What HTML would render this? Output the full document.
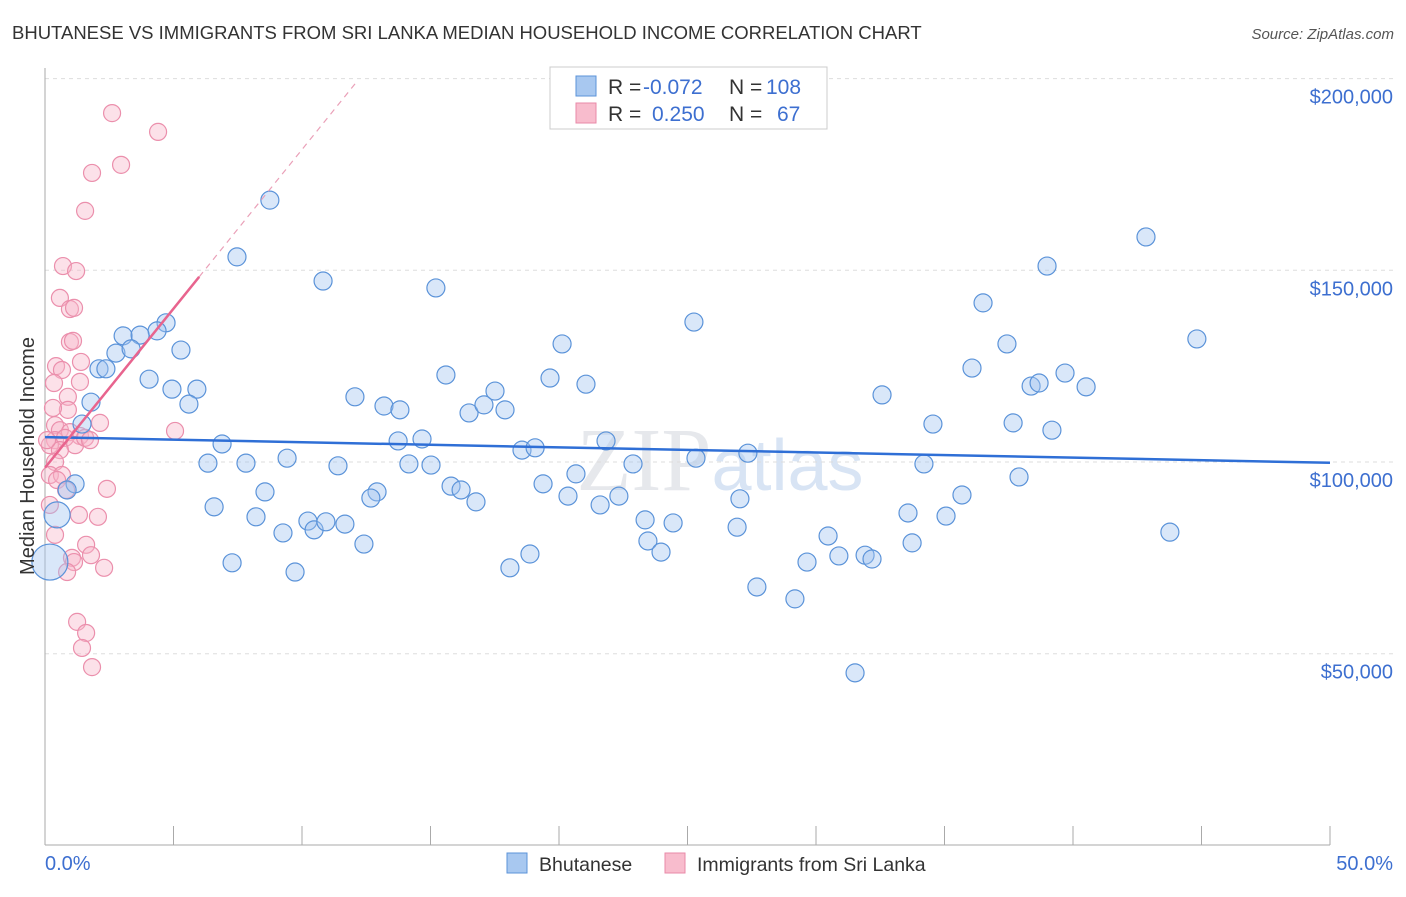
<!DOCTYPE html>
<html><head><meta charset="utf-8"><style>
body{margin:0;background:#fff;font-family:"Liberation Sans",sans-serif;}
</style></head><body>
<svg id="chart" width="1406" height="892" xmlns="http://www.w3.org/2000/svg" style="font-family:'Liberation Sans',sans-serif">
<text x="12" y="39" font-size="18.5" fill="#333">BHUTANESE VS IMMIGRANTS FROM SRI LANKA MEDIAN HOUSEHOLD INCOME CORRELATION CHART</text>
<text x="1394" y="39" font-size="15" fill="#555" text-anchor="end" font-style="italic">Source: ZipAtlas.com</text>
<text x="720" y="490" font-size="90" fill="#e6e8ec" text-anchor="middle" font-family="Liberation Serif">ZIP<tspan fill="#d8e4f4" font-family="Liberation Sans" font-size="72">atlas</tspan></text>
<g id="grid"></g><g id="axes"></g><g id="marks"></g>
<text transform="translate(34,456) rotate(-90)" font-size="20" fill="#333" text-anchor="middle">Median Household Income</text>
<g font-size="21">
<rect x="550" y="67" width="277" height="62" fill="#fff" stroke="#ccc"/>
<rect x="576" y="76" width="20" height="20" fill="#a8c8f0" stroke="#5b93d9"/>
<rect x="576" y="103" width="20" height="20" fill="#f8bccd" stroke="#e98aa8"/>
<text x="608" y="94" fill="#333">R =</text><text x="643" y="94" fill="#3d6fd0">-0.072</text>
<text x="729" y="94" fill="#333">N =</text><text x="766" y="94" fill="#3d6fd0">108</text>
<text x="608" y="121" fill="#333">R =</text><text x="652" y="121" fill="#3d6fd0">0.250</text>
<text x="729" y="121" fill="#333">N =</text><text x="777" y="121" fill="#3d6fd0">67</text>
</g>
<g>
<rect x="507" y="853" width="20" height="20" fill="#a8c8f0" stroke="#5b93d9"/>
<text x="539" y="871" font-size="19.5" fill="#333">Bhutanese</text>
<rect x="665" y="853" width="20" height="20" fill="#f8bccd" stroke="#e98aa8"/>
<text x="697" y="871" font-size="19.5" fill="#333">Immigrants from Sri Lanka</text>
</g>
</svg>
<script>
const yTicks=[50000,100000,150000,200000];
const yTickLabels=["$50,000","$100,000","$150,000","$200,000"];
const xTicks=[0,5,10,15,20,25,30,35,40,45,50];
const blueX=[8.75,7.47,10.82,15.21,42.84,38.99,36.5,44.82,25.25,20.12,4.71,4.36,3.04,3.7,2.76,3.35,5.29,2.1,2.37,4.05,4.94,5.91,5.6,1.79,1.44,12.06,13.19,13.81,15.6,16.5,17.08,17.51,17.9,19.65,21.05,6.89,6.34,7.82,9.42,11.4,13.74,14.67,14.16,15.02,18.56,19.07,21.83,22.88,25.33,27.35,20.66,19.38,20.35,21.6,22.33,27.04,15.8,16.19,16.77,12.92,12.68,8.56,6.58,8.21,9.26,10.23,10.47,10.93,11.67,12.41,7.28,9.73,18.09,18.87,23.35,24.44,23.46,23.97,26.93,27.7,29.18,29.65,30.47,30.89,31.91,32.18,31.52,33.58,33.74,35.06,35.68,34.2,34.55,32.57,36.07,37.43,37.67,38.37,38.68,39.69,40.51,39.18,37.9,43.77,1.17,0.86,0.47,0.19];
const blueY=[168.3,153.5,147.2,145.4,158.7,151.1,141.5,132.1,136.5,130.8,136.3,134.2,132.9,133.1,128.4,129.5,129.2,124.3,124.3,121.6,119,119,115.1,115.6,109.9,117,114.6,113.6,122.7,112.8,114.9,118.5,113.6,121.9,120.3,104.7,99.7,99.7,101,99,105.5,106,99.5,99.2,103.1,103.7,105.5,99.5,101,102.3,96.9,94.3,91.1,88.8,91.1,90.4,93.7,92.7,89.6,92.2,90.6,92.2,88.3,85.7,81.5,84.6,82.3,84.4,83.8,78.6,73.7,71.3,72.4,76,84.9,84.1,79.4,76.5,83,67.4,64.3,73.9,80.7,75.5,75.7,74.7,45,86.7,78.9,85.9,91.4,99.5,109.9,117.5,124.5,130.8,110.2,119.8,120.6,123.2,119.6,108.3,96.1,81.7,94.3,92.7,86.2,73.9];
const blueBig=[0,0,0,0,0,0,0,0,0,0,0,0,0,0,0,0,0,0,0,0,0,0,0,0,0,0,0,0,0,0,0,0,0,0,0,0,0,0,0,0,0,0,0,0,0,0,0,0,0,0,0,0,0,0,0,0,0,0,0,0,0,0,0,0,0,0,0,0,0,0,0,0,0,0,0,0,0,0,0,0,0,0,0,0,0,0,0,0,0,0,0,0,0,0,0,0,0,0,0,0,0,0,0,0,0,0,1,2];
const pinkX=[2.61,4.4,2.96,1.83,1.56,0.7,1.21,0.58,0.97,1.13,0.97,1.09,0.43,0.66,1.4,0.35,1.36,0.89,0.89,0.31,2.14,5.06,0.39,0.58,0.97,1.36,0.39,0.78,1.17,1.56,0.19,0.58,0.39,0.19,0.66,0.47,0.82,2.41,0.19,1.32,2.06,0.39,1.6,1.79,1.05,1.13,2.3,0.86,1.25,1.6,1.44,1.83,0.08,1.75];
const pinkY=[191,186.1,177.5,175.4,165.5,151.1,149.8,142.8,139.9,140.2,131.3,131.6,125,124,126.1,120.6,120.9,117,113.6,114.1,110.2,108.1,109.6,108.3,107.8,106.8,105.7,106.3,104.4,106.3,104.4,103.1,100,96.6,96.6,95.3,92.7,93,88.8,86.2,85.7,81,78.4,75.7,75,73.9,72.4,71.3,58.3,55.4,51.5,46.5,105.7,105.7];
const blueTrend=[106.5,99.8];
const pinkTrend=[98.5,148.3];
const pinkTrendEnd=6;
const NS="http://www.w3.org/2000/svg";
const X=p=>45+p*25.7;
const Y=v=>462-(v-100000)*191.7/50000;
const Yk=k=>Y(k*1000);
function mk(tag,attrs,parent){const e=document.createElementNS(NS,tag);for(const k in attrs)e.setAttribute(k,attrs[k]);parent.appendChild(e);return e;}
const grid=document.getElementById('grid'),axes=document.getElementById('axes'),marks=document.getElementById('marks');
yTicks.forEach((t,i)=>{
 const l=mk('line',{x1:45,x2:1393,y1:Y(t),y2:Y(t),stroke:'#ddd','stroke-dasharray':'4,4'},grid);
 
 
 const tx=mk('text',{x:1393,y:Y(t)+25,'font-size':20,fill:'#3d6fd0','text-anchor':'end'},axes);
 tx.textContent=yTickLabels[i];
 
 
});
const ya=mk('line',{x1:45,x2:45,y1:68,y2:845,stroke:'#aaa'},axes);


const xa=mk('line',{x1:45,x2:1330,y1:845,y2:845,stroke:'#aaa'},axes);


xTicks.forEach(t=>{
 const l=mk('line',{x1:X(t),x2:X(t),y1:826,y2:845,stroke:'#aaa'},axes);
 
 
});
const x0=mk('text',{x:45,y:870,'font-size':20,fill:'#3d6fd0'},axes);x0.textContent='0.0%';


const x1=mk('text',{x:1393,y:870,'font-size':20,fill:'#3d6fd0','text-anchor':'end'},axes);x1.textContent='50.0%';


pinkX.forEach((p,i)=>{
 const c=mk('circle',{cx:X(p),cy:Yk(pinkY[i]),r:8.5,fill:'rgba(248,180,200,0.4)',stroke:'#eb8fac','stroke-width':1.2},marks);
 
 
});
blueX.forEach((p,i)=>{
 const r=blueBig[i]==2?18:blueBig[i]==1?13:9;
 const c=mk('circle',{cx:X(p),cy:Yk(blueY[i]),r:r,fill:'rgba(160,196,240,0.4)',stroke:'#5b93d9','stroke-width':1.2},marks);
 
 
});
const bt=mk('line',{x1:X(0),y1:Yk(blueTrend[0]),x2:X(50),y2:Yk(blueTrend[1]),stroke:'#2f6fd6','stroke-width':2.5},marks);


const slope=(pinkTrend[1]-pinkTrend[0])/pinkTrendEnd;
const pt=mk('line',{x1:X(0),y1:Yk(pinkTrend[0]),x2:X(pinkTrendEnd),y2:Yk(pinkTrend[1]),stroke:'#e8648e','stroke-width':2.5},marks);


const pEnd=(199.5-pinkTrend[0])/slope;
const pd=mk('line',{x1:X(pinkTrendEnd),y1:Yk(pinkTrend[1]),x2:X(pEnd),y2:Yk(199.5),stroke:'#eaa0b8','stroke-width':1.2,'stroke-dasharray':'6,5'},marks);


</script>
</body></html>
